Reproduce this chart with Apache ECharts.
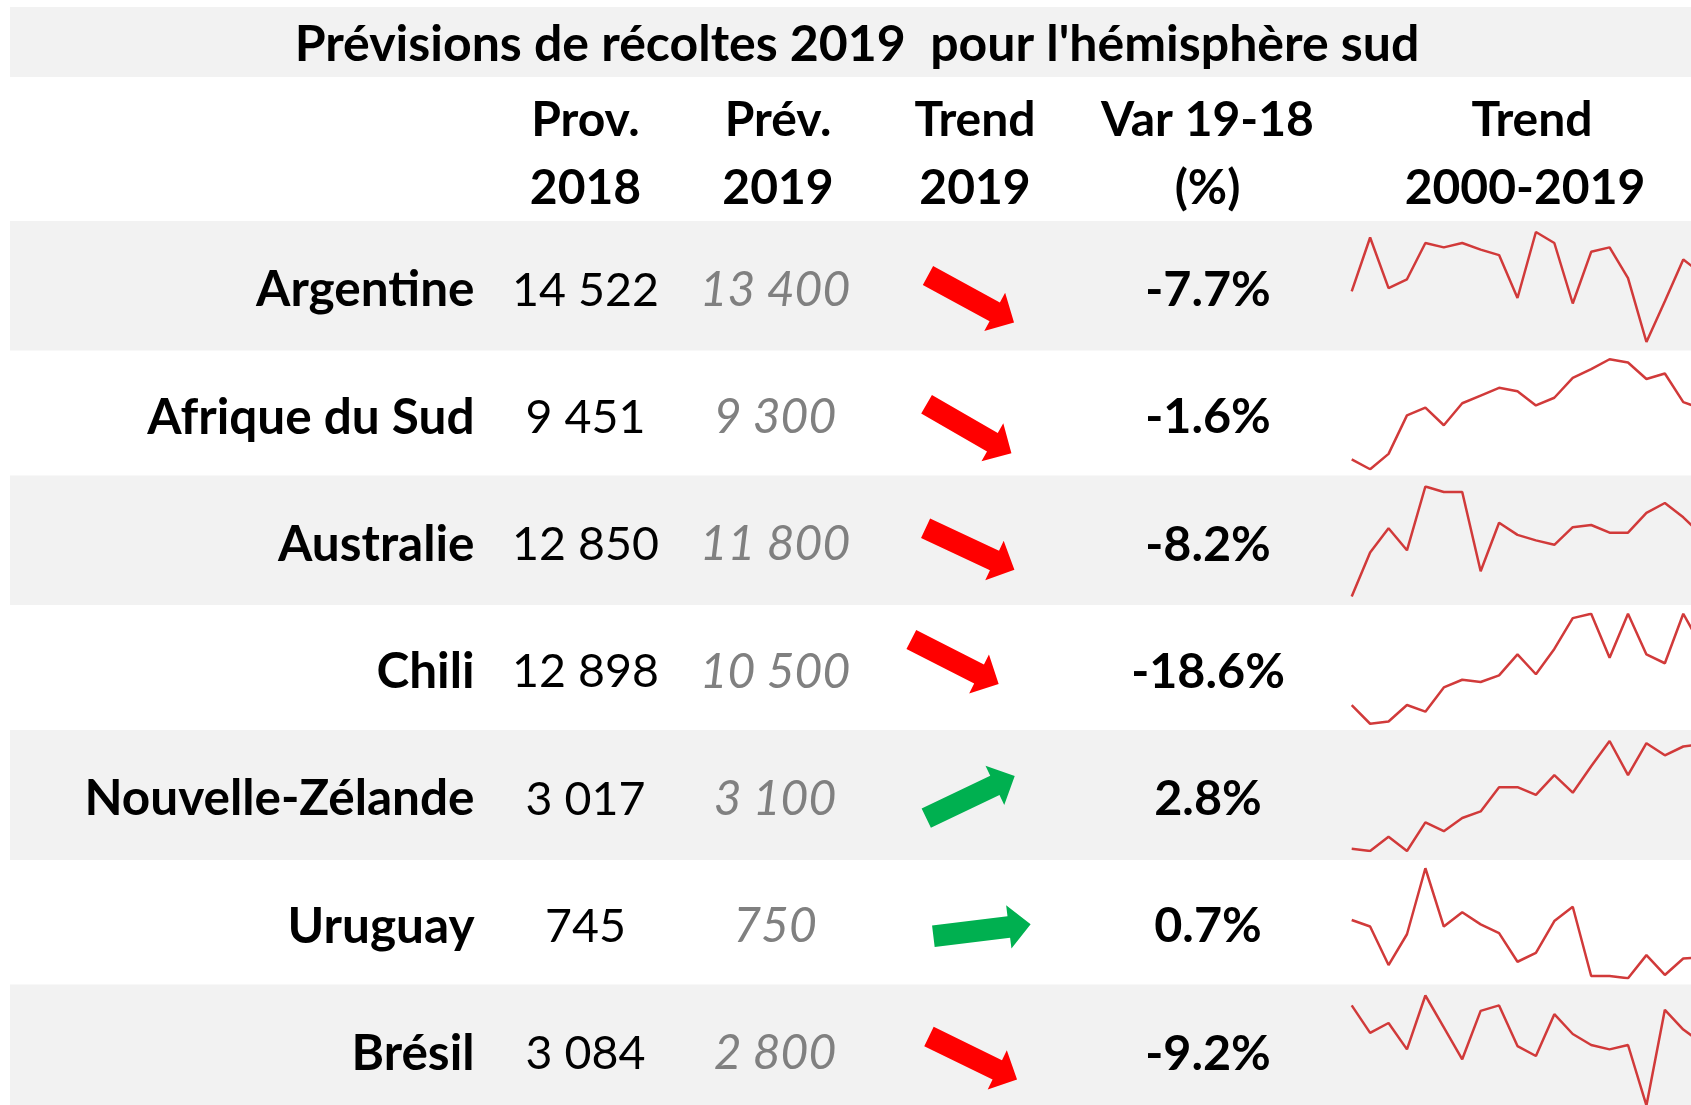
<!DOCTYPE html>
<html>
<head>
<meta charset="utf-8">
<script src="https://cdn.jsdelivr.net/npm/echarts@6/dist/echarts.min.js"></script>
<style>
html,body{margin:0;padding:0;background:#fff;}
#chart{width:1691px;height:1105px;}
</style>
</head>
<body>
<div id="chart"></div>
<script>
// ---------------- DATA ----------------
const title = "Prévisions de récoltes 2019  pour l'hémisphère sud";
const countries = ['Argentine', 'Afrique du Sud', 'Australie', 'Chili', 'Nouvelle-Zélande', 'Uruguay', 'Brésil'];
const prov2018 = [14522, 9451, 12850, 12898, 3017, 745, 3084];
const prev2019 = [13400, 9300, 11800, 10500, 3100, 750, 2800];
const headerLines = [['Prov.', '2018'], ['Prév.', '2019'], ['Trend', '2019'], ['Var 19-18', '(%)'], ['Trend', '2000-2019']];
const years = ['2000','2001','2002','2003','2004','2005','2006','2007','2008','2009',
               '2010','2011','2012','2013','2014','2015','2016','2017','2018','2019'];
// relative trend levels 2000-2019 (0 = lowest, 100 = highest of each country)
const trendArgentine = [46, 95, 49, 57, 90, 86, 90, 84, 79, 40, 100, 90, 35, 82, 86, 58, 0, 37, 75, 62];
const trendAfriqueSud = [9, 0, 14, 49, 56, 40, 60, 67, 74, 71, 58, 65, 83, 91, 100, 97, 82, 87, 61, 55];
const trendAustralie = [0, 40, 62, 42, 100, 95, 95, 23, 67, 56, 51, 47, 63, 65, 58, 58, 76, 85, 72, 56];
const trendChili = [17, 0, 2, 17, 11, 33, 40, 38, 44, 63, 45, 68, 96, 100, 60, 100, 63, 55, 100, 70];
const trendNZ = [2, 0, 13, 0, 26, 18, 30, 36, 58, 58, 51, 69, 53, 77, 100, 69, 98, 87, 95, 97];
const trendUruguay = [53, 47, 12, 40, 100, 47, 60, 49, 41, 15, 23, 52, 65, 2, 2, 0, 21, 3, 18, 19];
const trendBresil = [91, 66, 75, 51, 100, 71, 42, 86, 91, 54, 45, 83, 65, 55, 51, 55, 0, 87, 69, 57];
const trends = [trendArgentine, trendAfriqueSud, trendAustralie, trendChili, trendNZ, trendUruguay, trendBresil];

// ---------------- LAYOUT / STYLE ----------------
const W = 1691, H = 1105;
const ROW0 = 289, ROWH = 127.25, TEXT_DY = 1.5;
const FONT = 'Lato, "Open Sans", sans-serif';
const FS_TITLE = 50, FS_HEAD = 48, FS_LABEL = 49.5, FS_PROV = 46.5, FS_PREV = 48, FS_VAR = 48.5;
const COL_LABEL = 474.5, COL_PROV = 585.5, COL_PREV = 775, COL_ARROW = 968, COL_VAR = 1208;
const HEAD_X = [585.5, 778, 975, 1207.5, 1532];
const HEAD_X2 = [585.5, 778, 975, 1207.5, 1525];
const bands = [[221, 350.5], [475.6, 605], [730, 860], [984.6, 1110]];
// arrow placement tweaks: [dx, dy, angle in degrees (magnitude)]
const arrowTweak = [[3, 10, 28.6], [1, 12.5, 30], [2, 5.5, 25], [-13, -9, 27], [2.5, -1, 25.5], [14, 5, 7], [5, 5.5, 26]];

function fmt(n) { return String(n).replace(/\B(?=(\d{3})+(?!\d))/g, ' '); }
const varPct = prov2018.map((p, i) => ((prev2019[i] - p) / p * 100).toFixed(1) + '%');

const chart = echarts.init(document.getElementById('chart'), null, {renderer: 'canvas', width: W, height: H});

const graphics = [];
graphics.push({type: 'rect', shape: {x: 10, y: 7, width: W, height: 70}, style: {fill: '#f2f2f2'}, z: -10});
bands.forEach(b => graphics.push({type: 'rect', shape: {x: 10, y: b[0], width: W, height: b[1] - b[0]}, style: {fill: '#f2f2f2'}, z: -10}));
graphics.push({type: 'text', x: 857, y: 45, style: {text: title, font: 'bold ' + FS_TITLE + 'px ' + FONT, fill: '#000', align: 'center', verticalAlign: 'middle'}});
headerLines.forEach((h, i) => {
  graphics.push({type: 'text', x: HEAD_X[i], y: 120.8, style: {text: h[0], font: 'bold ' + FS_HEAD + 'px ' + FONT, fill: '#000', align: 'center', verticalAlign: 'middle'}});
  graphics.push({type: 'text', x: HEAD_X2[i], y: 188.8, style: {text: h[1], font: 'bold ' + FS_HEAD + 'px ' + FONT, fill: '#000', align: 'center', verticalAlign: 'middle'}});
});

// table grid: first row centre at top, last row centre at bottom
const grids = [{left: 0, top: ROW0, width: W, height: ROWH * 6, outerBoundsMode: 'none'}];
const xAxes = [{type: 'value', min: 0, max: W, show: false, gridIndex: 0}];
const yAxes = [{type: 'category', data: countries, inverse: true, boundaryGap: false, show: false, gridIndex: 0}];

function textSeries(colX, texts, font, fill, align) {
  return {
    type: 'custom', xAxisIndex: 0, yAxisIndex: 0, animation: false, clip: false,
    data: countries.map((c, i) => [colX, i]),
    renderItem: function (params, api) {
      const p = api.coord([api.value(0), api.value(1)]);
      return {type: 'text', x: p[0], y: p[1] + TEXT_DY,
        style: {text: texts[params.dataIndex], font: font, fill: fill, align: align, verticalAlign: 'middle'}};
    }
  };
}

const series = [];
series.push(textSeries(COL_LABEL, countries, 'bold ' + FS_LABEL + 'px ' + FONT, '#000', 'right'));
series.push(textSeries(COL_PROV, prov2018.map(fmt), FS_PROV + 'px ' + FONT, '#000', 'center'));
series.push(textSeries(COL_PREV, prev2019.map(fmt), 'italic ' + FS_PREV + 'px ' + FONT, '#808080', 'center'));
series.push(textSeries(COL_VAR, varPct, 'bold ' + FS_VAR + 'px ' + FONT, '#000', 'center'));

// arrows
const L = 98, SH = 10.75, HH = 21.8, HL = 22;
series.push({
  type: 'custom', xAxisIndex: 0, yAxisIndex: 0, animation: false, clip: false,
  data: countries.map((c, i) => [COL_ARROW, i, prev2019[i] - prov2018[i]]),
  renderItem: function (params, api) {
    const p = api.coord([api.value(0), api.value(1)]);
    const up = api.value(2) >= 0;
    const t = arrowTweak[params.dataIndex];
    const ang = (up ? 1 : -1) * t[2] * Math.PI / 180;
    const x0 = -L / 2, x1 = L / 2 - HL, x2 = L / 2;
    return {type: 'polygon', x: p[0] + t[0], y: p[1] + t[1], rotation: ang,
      shape: {points: [[x0, -SH], [x1, -SH], [x1, -HH], [x2, 0], [x1, HH], [x1, SH], [x0, SH]]},
      style: {fill: up ? '#00b050' : '#ff0000'}};
  }
});

// sparklines
trends.forEach((arr, i) => {
  const gi = i + 1;
  grids.push({left: 1351.7, width: 350, top: ROW0 + ROWH * i - 57, height: 110, outerBoundsMode: 'none'});
  xAxes.push({type: 'category', data: years, boundaryGap: false, show: false, gridIndex: gi});
  yAxes.push({type: 'value', min: 'dataMin', max: 'dataMax', show: false, gridIndex: gi});
  series.push({type: 'line', xAxisIndex: gi, yAxisIndex: gi, data: arr, showSymbol: false,
    lineStyle: {color: '#d13a3a', width: 2.5}, animation: false, silent: true});
});

chart.setOption({
  animation: false,
  grid: grids, xAxis: xAxes, yAxis: yAxes, series: series,
  graphic: {elements: graphics}
});
</script>
</body>
</html>
